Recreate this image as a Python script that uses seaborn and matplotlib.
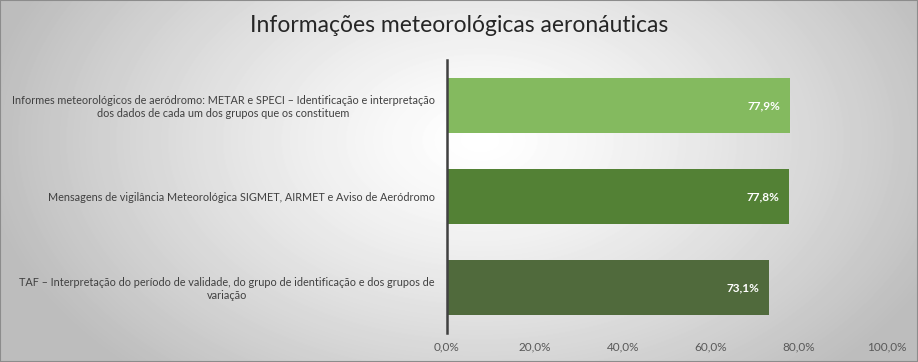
import numpy as np
import pandas as pd
import matplotlib
matplotlib.use('Agg')
import matplotlib.pyplot as plt
import seaborn as sns

# dados do gráfico
categorias = [
    'Informes meteorológicos de aeródromo: METAR e SPECI – Identificação e interpretação\n'
    'dos dados de cada um dos grupos que os constituem',
    'Mensagens de vigilância Meteorológica SIGMET, AIRMET e Aviso de Aeródromo',
    'TAF – Interpretação do período de validade, do grupo de identificação e dos grupos de\n'
    'variação',
]
valores = [77.9, 77.8, 73.1]
cores = ['#84BA5F', '#538135', '#506A3C']
ticks_x = [0, 20, 40, 60, 80, 100]
titulo = 'Informações meteorológicas aeronáuticas'

df = pd.DataFrame({'categoria': categorias, 'valor': valores})

sns.set_theme(style='white')
plt.rcParams['font.family'] = ['Lato', 'DejaVu Sans']

fig = plt.figure(figsize=(9.18, 3.62), dpi=100)

# fundo com gradiente radial (branco no centro, cinza nas bordas)
bg = fig.add_axes([0, 0, 1, 1], zorder=0)
yy, xx = np.mgrid[0:362, 0:918]
r = np.sqrt(((xx - 480) / 500.0) ** 2 + ((yy - 140) / 320.0) ** 2)
tom = np.clip(1.0 - 0.26 * r ** 1.3, 0.74, 1.0)
bg.imshow(tom, cmap='gray', vmin=0, vmax=1, aspect='auto', interpolation='bilinear')
bg.set_axis_off()
fig.patches.append(plt.Rectangle((0, 0), 1, 1, transform=fig.transFigure,
                                 fill=False, edgecolor='#8c8c8c', lw=1.5, zorder=10))

ax = fig.add_axes([447 / 918, 29 / 362, 440 / 918, 273 / 362], zorder=1)
ax.patch.set_alpha(0)

sns.barplot(data=df, x='valor', y='categoria', hue='categoria', palette=cores,
            legend=False, width=0.6, saturation=1, linewidth=0, ax=ax)

ax.set_xlim(0, 100)
ax.set_xticks(ticks_x)
ax.set_xticklabels([f'{t:.1f}%'.replace('.', ',') for t in ticks_x])
ax.set_xlabel('')
ax.set_ylabel('')
ax.tick_params(axis='x', length=0, pad=6, labelsize=8.5, labelcolor='#595959')
ax.tick_params(axis='y', length=0, pad=9, labelsize=7.8, labelcolor='#404040')
for lab in ax.get_yticklabels():
    lab.set_multialignment('center')

for s in ['top', 'right', 'bottom']:
    ax.spines[s].set_visible(False)
ax.spines['left'].set_color('#404040')
ax.spines['left'].set_linewidth(1.8)

for i, v in enumerate(valores):
    ax.annotate(f'{v:.1f}%'.replace('.', ','), xy=(v, i), xytext=(-7, 0),
                textcoords='offset points', ha='right', va='center',
                color='white', fontsize=8.5, fontweight='bold')

fig.text(0.5, 0.93, titulo, ha='center', va='center', fontsize=16.5,
         color='#262626', zorder=5)

fig.savefig('out.png', dpi=100)
